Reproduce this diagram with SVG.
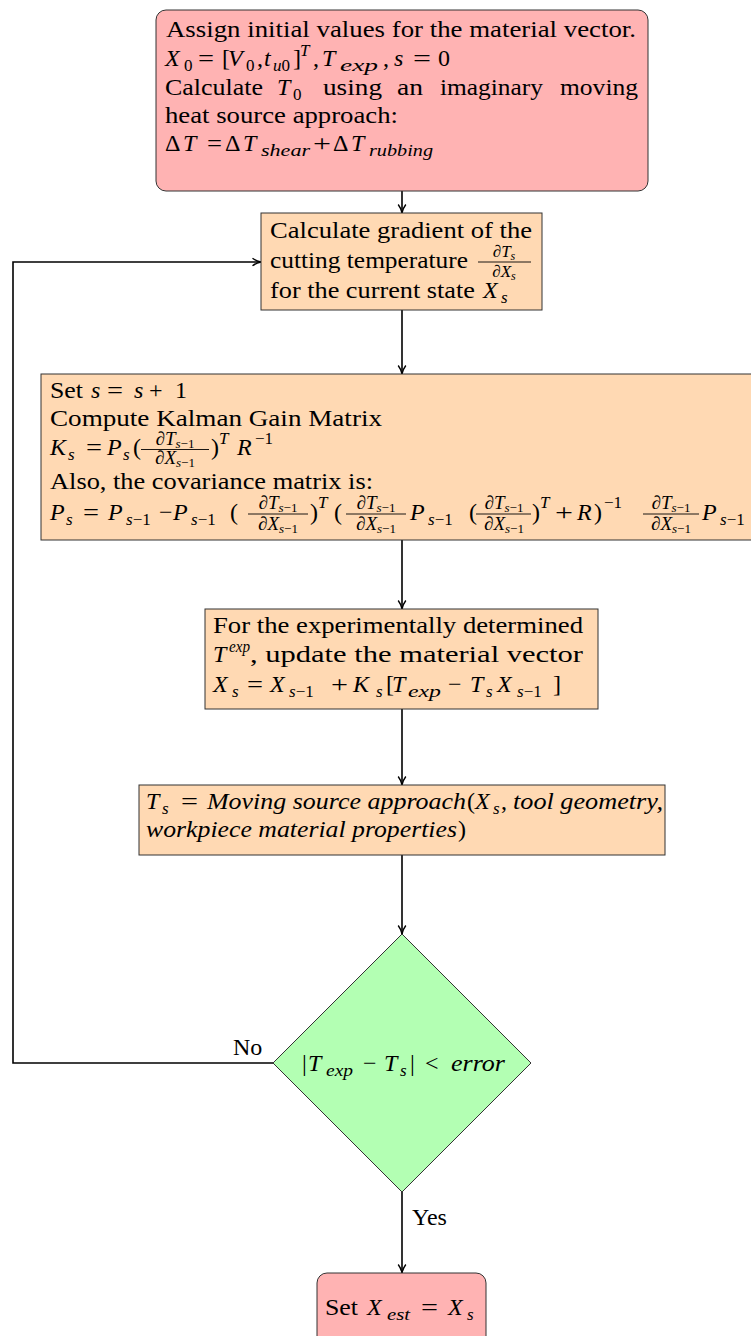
<svg xmlns="http://www.w3.org/2000/svg" width="751" height="1336" viewBox="0 0 751 1336">
<defs>
<marker id="arr" viewBox="0 0 10 10" refX="9.5" refY="5" markerWidth="10" markerHeight="10" markerUnits="userSpaceOnUse" orient="auto">
<path d="M1,1.2 Q5,4.2 9.5,5 Q5,5.8 1,8.8" fill="none" stroke="#000" stroke-width="1.4"/>
</marker>
<style>
text{font-family:'Liberation Serif','DejaVu Serif','Noto Serif',serif;font-size:24px;fill:#000}
.i{font-style:italic}
.sb{font-size:17px}
.fr{font-size:19px}
.ss{font-size:13px}
.red{fill:#ffb3b3;stroke:#333;stroke-width:1}
.org{fill:#ffd9b3;stroke:#333;stroke-width:1}
.grn{fill:#b3ffb3;stroke:#333;stroke-width:1}
.c{fill:none;stroke:#000;stroke-width:1.6}
.bar{stroke:#000;stroke-width:0.9}
</style>
</defs>
<rect width="751" height="1336" fill="#fff"/>

<g id="connectors">
<path class="c" d="M402,191 V213" marker-end="url(#arr)"/>
<path class="c" d="M402,310 V374" marker-end="url(#arr)"/>
<path class="c" d="M402,540 V609" marker-end="url(#arr)"/>
<path class="c" d="M402,709 V785" marker-end="url(#arr)"/>
<path class="c" d="M402,855 V934" marker-end="url(#arr)"/>
<path class="c" d="M402,1192 V1273" marker-end="url(#arr)"/>
<path class="c" d="M273,1063 H13 V262 H261" marker-end="url(#arr)"/>
<text x="233" y="1055">No</text>
<text x="412" y="1225">Yes</text>
</g>

<g id="start">
<rect class="red" x="156" y="10" width="492" height="181" rx="10"/>
<text x="166" y="37" textLength="470" lengthAdjust="spacingAndGlyphs">Assign initial values for the material vector.</text>
<text class="i" x="165" y="66">X</text>
<text class="sb" x="184" y="71">0</text>
<text x="198" y="66" textLength="16" lengthAdjust="spacingAndGlyphs">=</text>
<text x="222" y="66">[</text>
<text class="i" x="228" y="66">V</text>
<text class="sb" x="246" y="71">0</text>
<text x="257" y="66">,</text>
<text class="i" x="264" y="66">t</text>
<text class="sb" x="273" y="71"><tspan class="i">u</tspan>0</text>
<text x="293" y="66">]</text>
<text class="sb i" x="300" y="56">T</text>
<text x="313" y="66">,</text>
<text class="i" x="322" y="66">T</text>
<text class="sb i" x="340" y="71" font-size="19" textLength="38" lengthAdjust="spacingAndGlyphs">exp</text>
<text x="383" y="66">,</text>
<text class="i" x="394" y="66">s</text>
<text x="413" y="66" textLength="18" lengthAdjust="spacingAndGlyphs">=</text>
<text x="438" y="66">0</text>
<text x="165" y="95" textLength="98" lengthAdjust="spacingAndGlyphs">Calculate</text>
<text class="i" x="277" y="95">T</text>
<text class="sb" x="293" y="100">0</text>
<text x="323" y="95" textLength="59" lengthAdjust="spacingAndGlyphs">using</text>
<text x="397" y="95" textLength="26" lengthAdjust="spacingAndGlyphs">an</text>
<text x="440" y="95" textLength="103" lengthAdjust="spacingAndGlyphs">imaginary</text>
<text x="560" y="95" textLength="78" lengthAdjust="spacingAndGlyphs">moving</text>
<text x="165" y="123" textLength="233" lengthAdjust="spacingAndGlyphs">heat source approach:</text>
<text x="165" y="151">Δ</text>
<text class="i" x="183" y="151">T</text>
<text x="207" y="151" textLength="15" lengthAdjust="spacingAndGlyphs">=</text>
<text x="225" y="151">Δ</text>
<text class="i" x="243" y="151">T</text>
<text class="sb i" x="261" y="156" font-size="19" textLength="49" lengthAdjust="spacingAndGlyphs">shear</text>
<text x="313" y="151" textLength="18" lengthAdjust="spacingAndGlyphs">+</text>
<text x="333" y="151">Δ</text>
<text class="i" x="351" y="151">T</text>
<text class="sb i" x="369" y="156" font-size="19" textLength="64" lengthAdjust="spacingAndGlyphs">rubbing</text>
</g>

<g id="gradient">
<rect class="org" x="261" y="213" width="281" height="97"/>
<text x="270" y="238" textLength="262" lengthAdjust="spacingAndGlyphs">Calculate gradient of the</text>
<text x="270" y="268" textLength="198" lengthAdjust="spacingAndGlyphs">cutting temperature</text>
<text class="sb" x="504" y="257" text-anchor="middle">∂<tspan class="i">T</tspan><tspan class="i" font-size="12" dy="3">s</tspan></text>
<line class="bar" x1="478" y1="262" x2="531" y2="262"/>
<text class="sb" x="504" y="277" text-anchor="middle">∂<tspan class="i">X</tspan><tspan class="i" font-size="12" dy="3">s</tspan></text>
<text x="270" y="298" textLength="205" lengthAdjust="spacingAndGlyphs">for the current state</text>
<text class="i" x="483" y="298">X</text>
<text class="sb i" x="501" y="303">s</text>
</g>

<g id="kalman">
<rect class="org" x="41" y="374" width="730" height="166"/>
<text x="50" y="398" textLength="33" lengthAdjust="spacingAndGlyphs">Set</text>
<text class="i" x="91" y="398">s</text>
<text x="107" y="398" textLength="16" lengthAdjust="spacingAndGlyphs">=</text>
<text class="i" x="134" y="398">s</text>
<text x="149" y="398">+</text>
<text x="175" y="398">1</text>
<text x="50" y="426" textLength="332" lengthAdjust="spacingAndGlyphs">Compute Kalman Gain Matrix</text>
<text class="i" x="50" y="455">K</text>
<text class="sb i" x="68" y="460">s</text>
<text x="86" y="455" textLength="16" lengthAdjust="spacingAndGlyphs">=</text>
<text class="i" x="107" y="455">P</text>
<text class="sb i" x="123" y="460">s</text>
<text x="133" y="455">(</text>
<text class="fr" x="175" y="445" text-anchor="middle">∂<tspan class="i">T</tspan><tspan class="ss" dy="3"><tspan class="i">s</tspan>−1</tspan></text>
<line class="bar" x1="141" y1="449.5" x2="209" y2="449.5"/>
<text class="fr" x="175" y="464" text-anchor="middle">∂<tspan class="i">X</tspan><tspan class="ss" dy="3"><tspan class="i">s</tspan>−1</tspan></text>
<text x="211" y="455">)</text>
<text class="sb i" x="219" y="444">T</text>
<text class="i" x="237" y="455">R</text>
<text class="sb" x="255" y="444">−1</text>
<text x="50" y="489" textLength="323" lengthAdjust="spacingAndGlyphs">Also, the covariance matrix is:</text>
<text class="i" x="50" y="520">P</text>
<text class="sb i" x="66" y="525">s</text>
<text x="83" y="520" textLength="16" lengthAdjust="spacingAndGlyphs">=</text>
<text class="i" x="108" y="520">P</text>
<text class="sb" x="126" y="525"><tspan class="i">s</tspan>−1</text>
<text x="159" y="520">−</text>
<text class="i" x="173" y="520">P</text>
<text class="sb" x="191" y="525"><tspan class="i">s</tspan>−1</text>
<text x="230" y="520">(</text>
<text class="fr" x="278" y="509" text-anchor="middle">∂<tspan class="i">T</tspan><tspan class="ss" dy="3"><tspan class="i">s</tspan>−1</tspan></text>
<line class="bar" x1="248" y1="514" x2="308" y2="514"/>
<text class="fr" x="278" y="530" text-anchor="middle">∂<tspan class="i">X</tspan><tspan class="ss" dy="3"><tspan class="i">s</tspan>−1</tspan></text>
<text x="310" y="520">)</text>
<text class="sb i" x="318" y="508">T</text>
<text x="334" y="520">(</text>
<text class="fr" x="376" y="509" text-anchor="middle">∂<tspan class="i">T</tspan><tspan class="ss" dy="3"><tspan class="i">s</tspan>−1</tspan></text>
<line class="bar" x1="346" y1="514" x2="406" y2="514"/>
<text class="fr" x="376" y="530" text-anchor="middle">∂<tspan class="i">X</tspan><tspan class="ss" dy="3"><tspan class="i">s</tspan>−1</tspan></text>
<text class="i" x="410" y="520">P</text>
<text class="sb" x="428" y="525"><tspan class="i">s</tspan>−1</text>
<text x="469" y="520">(</text>
<text class="fr" x="504" y="509" text-anchor="middle">∂<tspan class="i">T</tspan><tspan class="ss" dy="3"><tspan class="i">s</tspan>−1</tspan></text>
<line class="bar" x1="476" y1="514" x2="531" y2="514"/>
<text class="fr" x="504" y="530" text-anchor="middle">∂<tspan class="i">X</tspan><tspan class="ss" dy="3"><tspan class="i">s</tspan>−1</tspan></text>
<text x="532" y="520">)</text>
<text class="sb i" x="540" y="508">T</text>
<text x="555" y="520" textLength="18" lengthAdjust="spacingAndGlyphs">+</text>
<text class="i" x="577" y="520">R</text>
<text x="594" y="520">)</text>
<text class="sb" x="604" y="508">−1</text>
<text class="fr" x="671" y="509" text-anchor="middle">∂<tspan class="i">T</tspan><tspan class="ss" dy="3"><tspan class="i">s</tspan>−1</tspan></text>
<line class="bar" x1="643" y1="514" x2="699" y2="514"/>
<text class="fr" x="671" y="530" text-anchor="middle">∂<tspan class="i">X</tspan><tspan class="ss" dy="3"><tspan class="i">s</tspan>−1</tspan></text>
<text class="i" x="702" y="520">P</text>
<text class="sb" x="720" y="525"><tspan class="i">s</tspan>−1</text>
</g>

<g id="update">
<rect class="org" x="205" y="609" width="393" height="100"/>
<text x="213" y="633" textLength="370" lengthAdjust="spacingAndGlyphs">For the experimentally determined</text>
<text class="i" x="213" y="662">T</text>
<text class="sb i" x="229" y="652" textLength="21" lengthAdjust="spacingAndGlyphs">exp</text>
<text x="250" y="662" textLength="333" lengthAdjust="spacingAndGlyphs">, update the material vector</text>
<text class="i" x="213" y="692">X</text>
<text class="sb i" x="232" y="697">s</text>
<text x="247" y="692" textLength="16" lengthAdjust="spacingAndGlyphs">=</text>
<text class="i" x="270" y="692">X</text>
<text class="sb" x="289" y="697"><tspan class="i">s</tspan>−1</text>
<text x="331" y="692" textLength="17" lengthAdjust="spacingAndGlyphs">+</text>
<text class="i" x="353" y="692">K</text>
<text class="sb i" x="376" y="697">s</text>
<text x="386" y="692">[</text>
<text class="i" x="392" y="692">T</text>
<text class="sb i" x="408" y="697" font-size="19" textLength="33" lengthAdjust="spacingAndGlyphs">exp</text>
<text x="448" y="692">−</text>
<text class="i" x="470" y="692">T</text>
<text class="sb i" x="486" y="697">s</text>
<text class="i" x="497" y="692">X</text>
<text class="sb" x="517" y="697"><tspan class="i">s</tspan>−1</text>
<text x="553" y="692">]</text>
</g>

<g id="model">
<rect class="org" x="139" y="785" width="526" height="70"/>
<text class="i" x="146" y="809">T</text>
<text class="sb i" x="162" y="814">s</text>
<text x="181" y="809" textLength="17" lengthAdjust="spacingAndGlyphs">=</text>
<text class="i" x="207" y="809" textLength="259" lengthAdjust="spacingAndGlyphs">Moving source approach</text>
<text x="467" y="809">(</text>
<text class="i" x="475" y="809">X</text>
<text class="sb i" x="493" y="814">s</text>
<text x="501" y="809">,</text>
<text class="i" x="513" y="809" textLength="150" lengthAdjust="spacingAndGlyphs">tool geometry,</text>
<text class="i" x="146" y="837" textLength="311" lengthAdjust="spacingAndGlyphs">workpiece material properties</text>
<text x="458" y="837">)</text>
</g>

<g id="decision">
<polygon class="grn" points="402,934 531,1063 402,1192 273,1063"/>
<text x="302" y="1071">|</text>
<text class="i" x="308" y="1071">T</text>
<text class="sb i" x="326" y="1076" textLength="27" lengthAdjust="spacingAndGlyphs">exp</text>
<text x="363" y="1071">−</text>
<text class="i" x="384" y="1071">T</text>
<text class="sb i" x="400" y="1076">s</text>
<text x="410" y="1071">|</text>
<text x="425" y="1071">&lt;</text>
<text class="i" x="451" y="1071" textLength="54" lengthAdjust="spacingAndGlyphs">error</text>
</g>

<g id="end">
<rect class="red" x="317" y="1273" width="169" height="80" rx="10"/>
<text x="325" y="1315" textLength="33" lengthAdjust="spacingAndGlyphs">Set</text>
<text class="i" x="367" y="1315">X</text>
<text class="sb i" x="387" y="1320" textLength="23" lengthAdjust="spacingAndGlyphs">est</text>
<text x="421" y="1315" textLength="17" lengthAdjust="spacingAndGlyphs">=</text>
<text class="i" x="448" y="1315">X</text>
<text class="sb i" x="467" y="1320">s</text>
</g>
</svg>
